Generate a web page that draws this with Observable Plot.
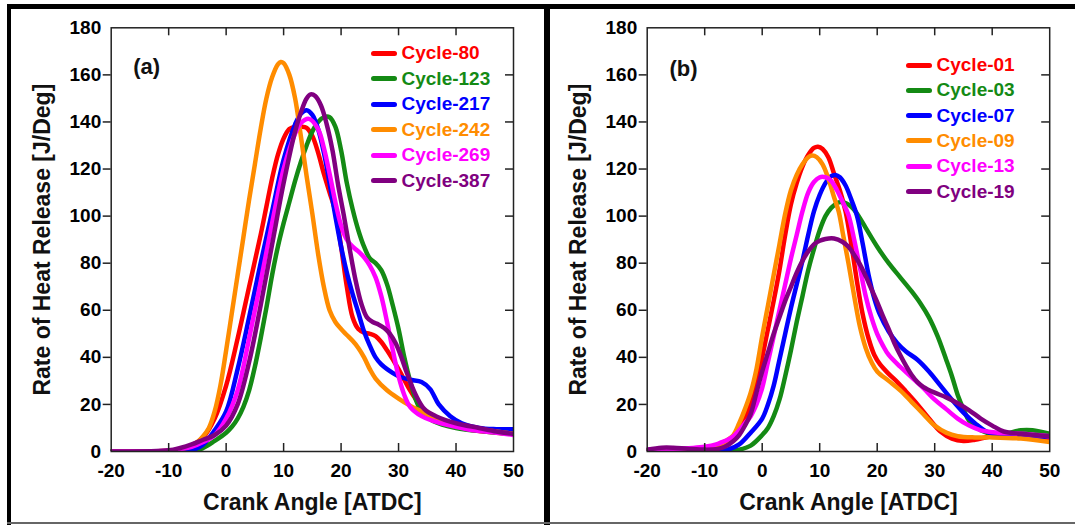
<!DOCTYPE html>
<html>
<head>
<meta charset="utf-8">
<script src="https://cdn.jsdelivr.net/npm/d3@7"></script>
<script src="https://cdn.jsdelivr.net/npm/@observablehq/plot@0.6"></script>
<style>
html,body{margin:0;padding:0;background:#fff;}
#wrap{position:relative;width:1075px;height:525px;overflow:hidden;background:#fff;font-family:"Liberation Sans",Arial,Helvetica,sans-serif;font-weight:bold;}
.bar{position:absolute;background:#000;}
.panel{position:absolute;top:0;height:525px;}
.legend{position:absolute;font-size:19px;}
.row{display:flex;align-items:center;white-space:nowrap;}
.sw{width:26px;height:5px;border-radius:2.5px;}
</style>
</head>
<body>
<div id="wrap">
  <div class="panel" id="pa" style="left:0;width:540px"></div>
  <div class="panel" id="pb" style="left:540px;width:535px"></div>
  <div class="legend" id="la" style="left:371px;top:40.5px"></div>
  <div class="legend" id="lb" style="left:906px;top:52.4px"></div>
  <div class="bar" style="left:7px;top:4px;width:1068px;height:5px"></div>
  <div class="bar" style="left:7px;top:4px;width:4px;height:521px"></div>
  <div class="bar" style="left:544px;top:4px;width:6px;height:521px"></div>
  <div class="bar" style="left:7px;top:522px;width:1068px;height:2px;background:#666"></div>
</div>
<script>
// ---------- axes / text ----------
const xTicks = [-20, -10, 0, 10, 20, 30, 40, 50];
const yTicks = [0, 20, 40, 60, 80, 100, 120, 140, 160, 180];
const xTitle = "Crank Angle [ATDC]";
const yTitle = "Rate of Heat Release [J/Deg]";

// ---------- panel (a) ----------
const namesA = ["Cycle-80", "Cycle-123", "Cycle-217", "Cycle-242", "Cycle-269", "Cycle-387"];
const colorsA = ["#ff0000", "#148a14", "#0000ff", "#ff8c00", "#ff00ff", "#800080"];

const cycle80X = [-20,-10,-8,-6,-4,-2,0,2,4,6,7,8,9,10,11,12,13,14,15,16,17,18,19,20,21,22,23,24,25,26,27,28,30,32,34,36,39,43,47,50];
const cycle80Y = [0,0.3,1,2.5,6,14,28,48,70,92,104,116,126,133,137,138,138,137.5,134,127,118,110,102,87,70,57,52,50.5,50,49,46.5,43,35,26,19,14,11,9,8,7.5];

const cycle123X = [-20,-6,-4,-2,0,1,2,3,4,5,6,7,8,9,10,11,12,13,14,15,16,17,18,19,20,21,22,23,24,25,26,27,28,29,30,31,32,33,34,36,40,45,50];
const cycle123Y = [0,0,1.5,4.5,8,10.5,14,19,26,36,48,61,75,87,97,106,115,123,130,136,140,142,142,138,128,114,103,94,87,82,80,77,71,62,52,40,30,22,17,13,10,8.5,7.5];

const cycle217X = [-20,-8,-6,-4,-2,0,2,4,6,8,10,12,13,14,15,16,17,18,19,20,21,22,23,24,25,26,27,28,30,32,34,35.5,37,39,41,44,47,50];
const cycle217Y = [0,0,0.5,3,9,17,35,57,80,102,124,139,143.5,145,143,137,127,114,100,87,76,67,59,51,45,40,37,35,32,30.5,29.5,26.5,20,15,12,10,9.5,9.5];

const cycle242X = [-20,-10,-8,-6,-5,-4,-3,-2,-1,0,1,2,3,4,5,6,7,8,9,9.5,10,11,12,13,14,15,16,17,18,19,20,21,22,23,24,25,26,28,30,32,34,36,38,41,44,47,50];
const cycle242Y = [0,0.3,1,2.5,4,6.5,10,17,28,43,59,75,91,107,122,137,150,159,164.5,165.5,165,160,150,134,117,101,84,70,60,55,52,49.5,47,44,40,35,31,26,22.5,19.5,17,14.5,12.5,11,9.5,8.5,7.5];

const cycle269X = [-20,-10,-8,-6,-4,-2,0,2,4,6,8,10,12,13,14.4,16,17,18,19,20,21,22,23,24,25,26,27,28,29,30,31,32,34,36,39,43,47,50];
const cycle269Y = [0,0.3,1,2,4,7,14,26,48,72,97,120,135,139.5,141.3,137,129,118,106,96,90,87,85,82.5,79,74,66,55,43,32,24,19,15,13,11,9,8,7];

const cycle387X = [-20,-10,-8,-6,-4,-2,0,2,4,6,8,10,12,13,14,14.7,15.5,16.5,17.5,18.5,19.5,20.5,21.5,22.5,23.5,24.5,25.5,26.5,27.5,28.5,29.5,30.5,31.5,33,34.5,36.5,40,44,47,50];
const cycle387Y = [0,0.5,1.5,3,5,7,11,20,38,62,88,114,136,144,150,151.7,151,147,139,128,113,100,86,73,63,57,55,54,52.5,50,46,40,33,24,18,15,12,10,8.5,7.5];

// ---------- panel (b) ----------
const namesB = ["Cycle-01", "Cycle-03", "Cycle-07", "Cycle-09", "Cycle-13", "Cycle-19"];
const colorsB = ["#ff0000", "#148a14", "#0000ff", "#ff8c00", "#ff00ff", "#800080"];

const cycle01X = [-20,-10,-8,-6,-4,-2,-1,0,1,2,3,4,5,6,7,8,9,9.7,10.5,11.5,12.5,13.5,14.5,15.5,16.5,17.5,18.5,19.5,20.5,22,23.5,25,27,29,31,33,35,37,40,45,50];
const cycle01Y = [0.5,0.5,1,3,9,20,28,40,52,64,77,92,105,114,121,126,129,129.5,128.5,125,118,111,102,88,72,58,48,41,37,33,29.5,25.5,20,14,8.5,5.5,4.5,5,6.5,6.5,5.5];

const cycle03X = [-20,-6,-4,-2,0,1,2,3,4,5,6,7,8,9,10,11,12,13,13.6,14.5,15.5,16.5,18,20,22,24,26,27.5,29,30.5,32,33,34,35,36,38,40,42,45,47,50];
const cycle03Y = [0.3,0.3,0.8,2.5,7,10,15,22,32,43,55,66,77,86,94,100,103.5,105.5,106,105.5,104,101,95,87,80,74,68,63,57,49,39,32,24,18,13,9,7.5,7.5,9,9,7.5];

const cycle07X = [-20,-8,-6,-4,-2,0,1,2,3,4,5,6,7,8,9,10,11,12,12.75,13.5,14.5,15.5,16.5,17.5,18.5,19.5,20.5,22,23.5,25,27,29,31,33,35,37,39,42,46,50];
const cycle07Y = [0.5,0.5,0.8,3,8,14,20,28,39,50,61,71,81,92,102,109,114,117,117.5,116.5,113,107,100,88,75,65,58,51,46,42.5,39,34,28,22,16.5,12,8.5,6.5,6,6.5];

const cycle09X = [-20,-10,-8,-6,-5,-4,-3,-2,-1,0,1,2,3,4,5,6,7,8,8.7,9.5,10.5,11.5,12.5,13.3,14,15,16,17,18,19,20,22,24,26,28,30,32,34,37,40,45,50];
const cycle09Y = [0.5,1,2,5,7,12,18,25,35,49,62,75,88,101,111,117.5,122,125,125.7,125,122,116,108,102,93,80,66,53,44,38,34,30,26,21,16,11,8,6.5,6,6,5.5,4];

const cycle13X = [-20,-16,-12,-10,-8,-7,-6,-5,-4,-3,-2,-1,0,1,2,3,4,5,6,7,8,9,10,11,12,13,14,15,16,17,18,19,20,21,22,24,26,28,30,32,34,36,38,41,45,50];
const cycle13Y = [0.8,1,1.5,2,3,4,5,6.5,9,12,15,20,27,38,49,60,71,82,92,102,110,114.5,116.5,116.5,115,111,106,100.5,90,78,66,57,50,45,41,36,31.5,27,22,18,14,11,9,8,7.5,6.5];

const cycle19X = [-20,-17.5,-15.5,-13,-10,-8,-6.5,-5,-4,-3,-2,-1,0,1,2,3,4,5,6,7,8,9,10,11,12.5,14,15,16,17,18,19,20,21,22,23,24,25,26,27,28,30,32,34,36,38,40,42,45,50];
const cycle19Y = [0.8,1.6,1.6,1.2,0.8,1,2,4.5,7,11,16,25,34,42,50,57,64,70,76,81,85,88,89.5,90.3,90.5,89,87,83.5,79.5,74.5,69,63.5,57.5,52,46,41,36.5,32.5,29.5,27.5,25,23,20.5,17.5,14,11,8.5,7.5,6.5];

// ---------- build ----------
function toRows(names, xs, ys) {
  return names.flatMap((n, i) => xs[i].map((x, j) => ({series: n, x, y: ys[i][j]})));
}

const FONT = '"Liberation Sans", Arial, Helvetica, sans-serif';
const plain = d => String(d);   // hyphen-minus like the reference
const blank = () => "";

function panel({width, ml, mr, names, colors, data, tag, tagDx, tagDy}) {
  const H = 525, mt = 27.3, mb = 74;
  const iw = width - ml - mr, ih = H - mt - mb;
  const innerX = xTicks.slice(1, -1), innerY = yTicks.slice(1, -1);
  return Plot.plot({
    width, height: H,
    marginLeft: ml, marginRight: mr, marginTop: mt, marginBottom: mb,
    style: {fontFamily: FONT, fontWeight: "bold", fontSize: "19px", color: "#000", background: "transparent", overflow: "visible"},
    x: {domain: [-20, 50]},
    y: {domain: [0, 180]},
    color: {domain: names, range: colors},
    marks: [
      Plot.line(data, {x: "x", y: "y", z: "series", stroke: "series", strokeWidth: 4.5, curve: "catmull-rom", strokeLinejoin: "round", clip: true}),
      Plot.ruleX(innerX, {x: d => d, insetTop: ih - 8, stroke: "#222", strokeWidth: 1.5}),
      Plot.ruleX(innerX, {x: d => d, insetBottom: ih - 8, stroke: "#222", strokeWidth: 1.5}),
      Plot.ruleY(innerY, {y: d => d, insetLeft: iw - 8, stroke: "#222", strokeWidth: 1.5}),
      Plot.axisY({ticks: innerY, tickSize: 8, tickPadding: 2, tickFormat: blank, label: null, strokeWidth: 1.5, stroke: "#222"}),
      Plot.axisY({ticks: yTicks, tickSize: 0, tickPadding: 10, tickFormat: plain, label: null}),
      Plot.axisX({ticks: xTicks, tickSize: 0, tickPadding: 12, tickFormat: plain, label: null}),
      Plot.frame({stroke: "#222", strokeWidth: 1.5}),
      Plot.text([xTitle], {frameAnchor: "bottom", dy: 50.7, fontSize: 23, textAnchor: "middle", lineAnchor: "middle", fill: "#111"}),
      Plot.text([yTitle], {frameAnchor: "left", dx: -69, rotate: -90, fontSize: 23, textAnchor: "middle", lineAnchor: "middle", fill: "#111"}),
      Plot.text([tag], {frameAnchor: "top-left", dx: tagDx, dy: tagDy, textAnchor: "start", lineAnchor: "middle", fontSize: 22, fill: "#111"})
    ]
  });
}

function legend(el, names, colors, rowH) {
  names.forEach((n, i) => {
    const row = document.createElement("div");
    row.className = "row";
    row.style.height = rowH + "px";
    const sw = document.createElement("span");
    sw.className = "sw";
    sw.style.background = colors[i];
    const t = document.createElement("span");
    t.textContent = n;
    t.style.color = colors[i];
    t.style.marginLeft = "4.5px";
    row.appendChild(sw);
    row.appendChild(t);
    el.appendChild(row);
  });
}

const dataA = toRows(namesA,
  [cycle80X, cycle123X, cycle217X, cycle242X, cycle269X, cycle387X],
  [cycle80Y, cycle123Y, cycle217Y, cycle242Y, cycle269Y, cycle387Y]);
const dataB = toRows(namesB,
  [cycle01X, cycle03X, cycle07X, cycle09X, cycle13X, cycle19X],
  [cycle01Y, cycle03Y, cycle07Y, cycle09Y, cycle13Y, cycle19Y]);

document.getElementById("pa").appendChild(panel({width: 540, ml: 110.7, mr: 27, names: namesA, colors: colorsA, data: dataA, tag: "(a)", tagDx: 22, tagDy: 39.4}));
document.getElementById("pb").appendChild(panel({width: 535, ml: 106.7, mr: 25.8, names: namesB, colors: colorsB, data: dataB, tag: "(b)", tagDx: 22.3, tagDy: 41}));
legend(document.getElementById("la"), namesA, colorsA, 25.5);
legend(document.getElementById("lb"), namesB, colorsB, 25.3);
</script>
</body>
</html>
